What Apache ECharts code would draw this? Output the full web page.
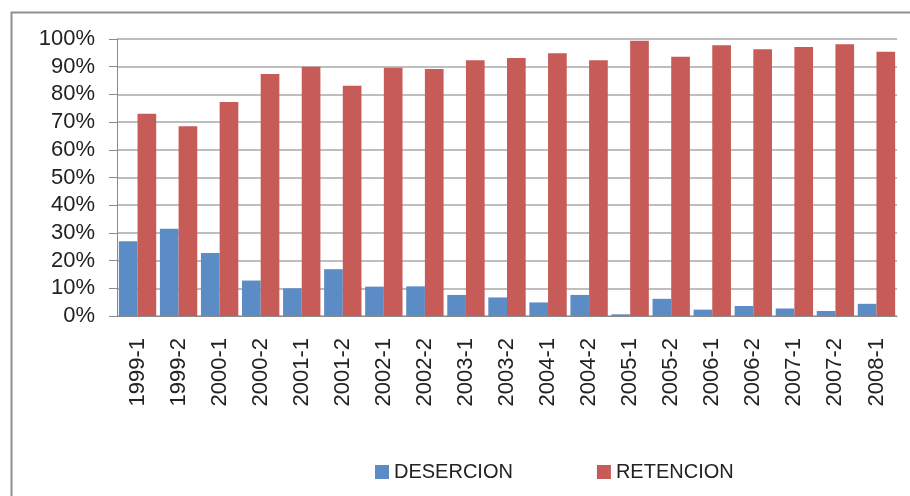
<!DOCTYPE html>
<html>
<head>
<meta charset="utf-8">
<script src="https://cdn.jsdelivr.net/npm/echarts@6/dist/echarts.min.js"></script>
<style>html,body{margin:0;padding:0;background:#fff}#c{width:910px;height:496px}</style>
</head>
<body>
<div id="c"></div>
<script>
var categories = ["1999-1","1999-2","2000-1","2000-2","2001-1","2001-2","2002-1","2002-2","2003-1","2003-2","2004-1","2004-2","2005-1","2005-2","2006-1","2006-2","2007-1","2007-2","2008-1"];
var desercion = [27.0, 31.5, 22.7, 12.8, 10.0, 16.9, 10.6, 10.7, 7.6, 6.7, 4.9, 7.6, 0.6, 6.2, 2.3, 3.6, 2.7, 1.8, 4.4];
var retencion = [73.0, 68.5, 77.3, 87.4, 90.0, 83.1, 89.6, 89.2, 92.3, 93.1, 94.9, 92.3, 99.4, 93.6, 97.7, 96.3, 97.1, 98.1, 95.4];
var seriesNames = ["DESERCION", "RETENCION"];

var chart = echarts.init(document.getElementById('c'));
chart.setOption({
  animation: false,
  backgroundColor: '#fff',
  graphic: [{
    type: 'rect', left: 9, top: 10, silent: true,
    shape: {width: 920, height: 500},
    style: {fill: 'none', stroke: '#8f8f8f', lineWidth: 2}
  }],
  grid: {left: 117, right: 13, top: 39, bottom: 180, containLabel: false},
  legend: {
    data: seriesNames,
    left: 370, top: 457,
    itemWidth: 14, itemHeight: 14, itemGap: 84,
    icon: 'rect',
    textStyle: {fontFamily: 'Liberation Sans', fontSize: 20, color: '#222'}
  },
  xAxis: {
    type: 'category',
    data: categories,
    axisLine: {lineStyle: {color: '#8a8a8a', width: 1}},
    axisTick: {length: 9, lineStyle: {color: '#8a8a8a'}},
    axisLabel: {rotate: 90, margin: 22, fontFamily: 'Liberation Sans', fontSize: 22, color: '#222', interval: 0}
  },
  yAxis: {
    type: 'value', min: 0, max: 100, interval: 10,
    axisLine: {show: true, lineStyle: {color: '#8a8a8a'}},
    axisTick: {show: true, length: 8, lineStyle: {color: '#8a8a8a'}},
    axisLabel: {formatter: '{value}%', margin: 22, fontFamily: 'Liberation Sans', fontSize: 22, color: '#222'},
    splitLine: {lineStyle: {color: '#a8a8a8', width: 1.5}}
  },
  series: [
    {name: seriesNames[0], type: 'bar', data: desercion, itemStyle: {color: '#5b8cc6'}, barGap: '0%', barCategoryGap: '9%'},
    {name: seriesNames[1], type: 'bar', data: retencion, itemStyle: {color: '#c75b57'}, barGap: '0%', barCategoryGap: '9%'}
  ]
});
</script>
</body>
</html>
